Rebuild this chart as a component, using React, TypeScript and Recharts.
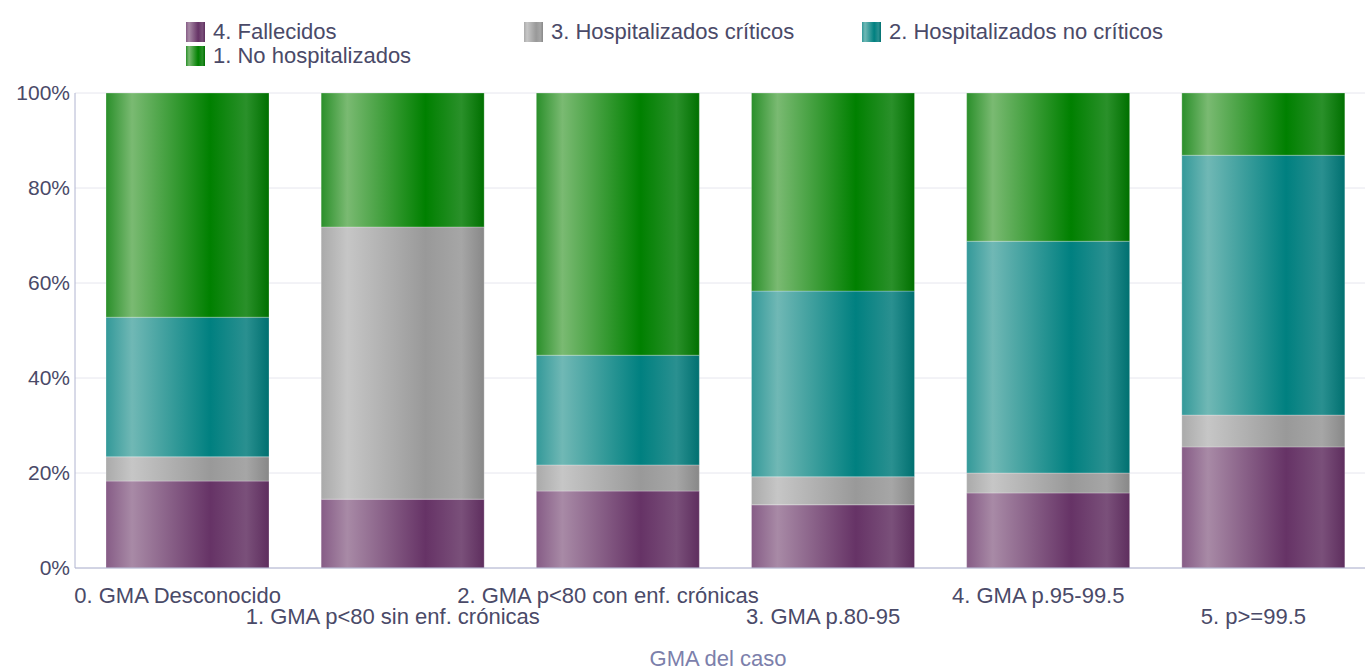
import { BarChart, Bar, XAxis, YAxis, CartesianGrid } from "recharts";

const categories = [
  "0. GMA Desconocido",
  "1. GMA p<80 sin enf. crónicas",
  "2. GMA p<80 con enf. crónicas",
  "3. GMA p.80-95",
  "4. GMA p.95-99.5",
  "5. p>=99.5",
];

// percentages per category, bottom to top of the stack
const fallecidos = [18.3, 14.5, 16.2, 13.3, 15.8, 25.5];
const criticos = [5.1, 57.3, 5.5, 5.9, 4.2, 6.7];
const noCriticos = [29.4, 0, 23.1, 39.1, 48.8, 54.7];
const noHospitalizados = [47.2, 28.2, 55.8, 41.7, 31.2, 13.1];

const yTicks = [0, 20, 40, 60, 80, 100];

const data = categories.map((c, i) => ({
  cat: c,
  fallecidos: fallecidos[i],
  criticos: criticos[i],
  noCriticos: noCriticos[i],
  noHosp: noHospitalizados[i],
}));

const series = [
  { key: "fallecidos", name: "4. Fallecidos", stops: ["#865c86", "#a88aa6", "#663366", "#7a507a", "#5e2e5e"] },
  { key: "criticos", name: "3. Hospitalizados críticos", stops: ["#aaaaaa", "#c6c6c6", "#999999", "#a6a6a6", "#888888"] },
  { key: "noCriticos", name: "2. Hospitalizados no críticos", stops: ["#339999", "#70b8b5", "#008080", "#2a9090", "#007070"] },
  { key: "noHosp", name: "1. No hospitalizados", stops: ["#2a8f2a", "#7aba72", "#008000", "#2a902a", "#007000"] },
];

const offsets = ["0%", "16%", "64%", "86%", "100%"];
const font = "'Liberation Sans', Arial, sans-serif";
const textColor = "#4a4a68";

const Grad = ({ id, stops }: { id: string; stops: string[] }) => (
  <linearGradient id={id} x1="0" y1="0" x2="1" y2="0">
    {stops.map((s, i) => (
      <stop key={i} offset={offsets[i]} stopColor={s} />
    ))}
  </linearGradient>
);

const XTick = (props: any) => {
  const { x, y, payload, index } = props;
  return (
    <text
      x={x - 10}
      y={y + (index % 2 === 0 ? 35 : 56)}
      textAnchor="middle"
      fill={textColor}
      fontSize={22}
      fontFamily={font}
    >
      {payload.value}
    </text>
  );
};

const legendPos = [
  { left: 186, top: 22 },
  { left: 524, top: 22 },
  { left: 862, top: 22 },
  { left: 186, top: 46 },
];

export default function App() {
  return (
    <div style={{ position: "absolute", left: 0, top: 0, width: 1365, height: 672, overflow: "hidden", background: "#fff", fontFamily: font }}>
      <svg width={0} height={0} style={{ position: "absolute" }}>
        <defs>
          {series.map((s) => (
            <Grad key={s.key} id={"lg-" + s.key} stops={s.stops} />
          ))}
        </defs>
      </svg>
      {series.map((s, i) => (
        <div
          key={s.key}
          style={{ position: "absolute", left: legendPos[i].left, top: legendPos[i].top, display: "flex", alignItems: "center", height: 20 }}
        >
          <svg width={19} height={20} style={{ marginRight: 8 }}>
            <rect width={19} height={20} fill={"url(#lg-" + s.key + ")"} />
          </svg>
          <span style={{ fontSize: 22, color: textColor, lineHeight: "20px", whiteSpace: "nowrap" }}>{s.name}</span>
        </div>
      ))}
      <BarChart
        width={1373}
        height={672}
        data={data}
        margin={{ top: 93, right: 2, bottom: 0, left: 0 }}
        style={{ position: "absolute", left: 0, top: 0 }}
      >
        <defs>
          {series.map((s) => (
            <Grad key={s.key} id={"g-" + s.key} stops={s.stops} />
          ))}
        </defs>
        <CartesianGrid vertical={false} stroke="#e6e6ee" />
        <XAxis
          dataKey="cat"
          interval={0}
          height={104}
          padding={{ left: 5, right: 0 }}
          tickLine={false}
          tickSize={0}
          tickMargin={0}
          axisLine={{ stroke: "#b0b4d0" }}
          tick={<XTick />}
          label={{ value: "GMA del caso", position: "insideBottom", offset: 6, fill: "#7c80ab", fontSize: 22, fontFamily: font, dx: -5 }}
        />
        <YAxis
          width={75}
          domain={[0, 100]}
          allowDataOverflow
          ticks={yTicks}
          tickFormatter={(v) => v + "%"}
          tickLine={false}
          tickSize={0}
          tickMargin={5}
          axisLine={{ stroke: "#b0b4d0" }}
          tick={{ fill: textColor, fontSize: 21, fontFamily: font }}
        />
        {series.map((s) => (
          <Bar
            key={s.key}
            dataKey={s.key}
            name={s.name}
            stackId="a"
            barSize={163}
            fill={"url(#g-" + s.key + ")"}
            stroke="rgba(255,255,255,0.25)"
            strokeWidth={1}
            isAnimationActive={false}
          />
        ))}
      </BarChart>
    </div>
  );
}
